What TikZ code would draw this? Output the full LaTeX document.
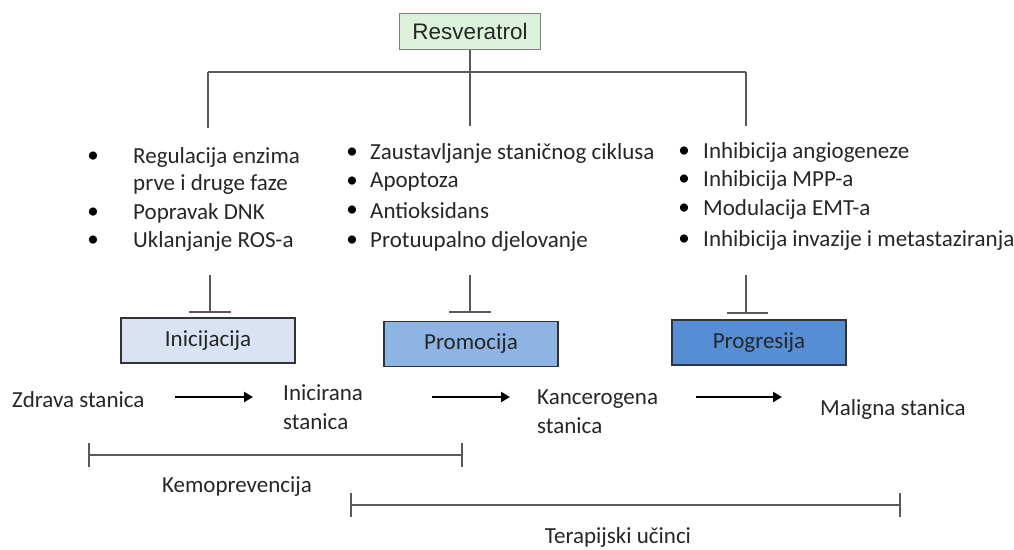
\documentclass[tikz,border=0pt]{standalone}
\usepackage{fontspec}
\setmainfont{Carlito}
\newfontfamily\arialf{Liberation Sans}
\usetikzlibrary{arrows.meta}
\definecolor{resg}{HTML}{DCF2DA}
\definecolor{ini}{HTML}{DAE3F3}
\definecolor{pro}{HTML}{8EB4E3}
\definecolor{prg}{HTML}{558ED5}
\definecolor{lgray}{HTML}{5A5A5A}
\tikzset{
  txt/.style={inner sep=0pt, font=\fontsize{23}{29}\selectfont, text=black!85},
  lst/.style={inner sep=0pt, anchor=west, font=\fontsize{23}{29}\selectfont, text=black!85},
  bul/.style={inner sep=0pt, font=\fontsize{23}{29}\selectfont},
  stagebox/.style={draw=black!80, line width=1.2pt, minimum width=174pt, minimum height=45pt, inner sep=0pt, font=\fontsize{23}{29}\selectfont, text=black!85},
  conn/.style={draw=lgray, line width=1.6pt},
  inh/.style={draw=lgray, line width=1.7pt},
  flow/.style={draw=black, line width=2.8pt, -{Triangle[length=9pt,width=10pt]}},
}
\begin{document}
\begin{tikzpicture}[x=1pt,y=-1pt]
\useasboundingbox (0,0) rectangle (1014,549);
% Resveratrol
\node[draw=gray, fill=resg, line width=1pt, minimum width=141pt, minimum height=36pt, inner sep=0pt, font=\arialf\fontsize{22.5}{26}\selectfont, text=black!85] (res) at (470,31) {Resveratrol};
\coordinate (hub) at (470,72);
\coordinate (hl) at (208,72);
\coordinate (hr) at (746,72);
\coordinate (dl) at (208,128);
\coordinate (dm) at (470,126);
\coordinate (dr) at (746,126);
\draw[conn] (res.south) -- (hub);
\draw[conn] (hl) -- (hr);
\draw[conn] (hl) -- (dl);
\draw[conn] (hub) -- (dm);
\draw[conn] (hr) -- (dr);
% left list
\node[bul] (lb1) at (93,157) {\textbullet};
\node[bul] (lb2) at (93,213) {\textbullet};
\node[bul] (lb3) at (93,241) {\textbullet};
\node[lst] (l1) at (133,157) {Regulacija enzima};
\node[lst] (l1b) at (133,184) {prve i druge faze};
\node[lst] (l2) at (133,213) {Popravak DNK};
\node[lst] (l3) at (133,241) {Uklanjanje ROS-a};
% middle list
\node[bul] (mb1) at (352,153) {\textbullet};
\node[bul] (mb2) at (352,182) {\textbullet};
\node[bul] (mb3) at (352,211) {\textbullet};
\node[bul] (mb4) at (352,241) {\textbullet};
\node[lst] (m1) at (370,153) {Zaustavljanje staničnog ciklusa};
\node[lst] (m2) at (370,182) {Apoptoza};
\node[lst] (m3) at (370,211) {Antioksidans};
\node[lst] (m4) at (370,241) {Protuupalno djelovanje};
% right list
\node[bul] (rb1) at (684,152) {\textbullet};
\node[bul] (rb2) at (684,180) {\textbullet};
\node[bul] (rb3) at (684,209) {\textbullet};
\node[bul] (rb4) at (684,240) {\textbullet};
\node[lst] (r1) at (703,152) {Inhibicija angiogeneze};
\node[lst] (r2) at (703,180) {Inhibicija MPP-a};
\node[lst] (r3) at (703,209) {Modulacija EMT-a};
\node[lst] (r4) at (703,240) {Inhibicija invazije i metastaziranja};
% stage boxes
\node[stagebox, fill=ini] (ini) at (208,340.5) {Inicijacija};
\node[stagebox, fill=pro] (pro) at (471,344) {Promocija};
\node[stagebox, fill=prg] (prg) at (759,342.5) {Progresija};
% inhibition
\coordinate (il) at (210,275); \coordinate (ilb) at (210,312);
\coordinate (im) at (470,275); \coordinate (imb) at (470,312);
\coordinate (ir) at (746,275); \coordinate (irb) at (746,313);
\draw[inh] (il) -- (ilb); \draw[inh] (189,312) -- (231,312);
\draw[inh] (im) -- (imb); \draw[inh] (449,312) -- (491,312);
\draw[inh] (ir) -- (irb); \draw[inh] (727,313) -- (768,313);
% cells
\node[txt, anchor=west] (c1) at (12,400) {Zdrava stanica};
\node[txt, anchor=west, align=left] (c2) at (283,407) {Inicirana\\stanica};
\node[txt, anchor=west, align=left] (c3) at (537,412) {Kancerogena\\stanica};
\node[txt, anchor=west] (c4) at (820,409) {Maligna stanica};
\coordinate (a1s) at (175,397); \coordinate (a1e) at (253,397);
\coordinate (a2s) at (432,397); \coordinate (a2e) at (510,397);
\coordinate (a3s) at (696,397); \coordinate (a3e) at (782,397);
\draw[flow] (a1s) -- (a1e);
\draw[flow] (a2s) -- (a2e);
\draw[flow] (a3s) -- (a3e);
% ranges
\coordinate (k1) at (89,455); \coordinate (k2) at (462,455);
\draw[conn] (k1) -- (k2);
\draw[conn] (89,443) -- (89,467);
\draw[conn] (462,443) -- (462,467);
\node[txt] (kem) at (237,487) {Kemoprevencija};
\coordinate (t1) at (351,505); \coordinate (t2) at (900,505);
\draw[conn] (t1) -- (t2);
\draw[conn] (351,493) -- (351,517);
\draw[conn] (900,493) -- (900,517);
\node[txt] (ter) at (618,537) {Terapijski učinci};
\end{tikzpicture}
\end{document}
